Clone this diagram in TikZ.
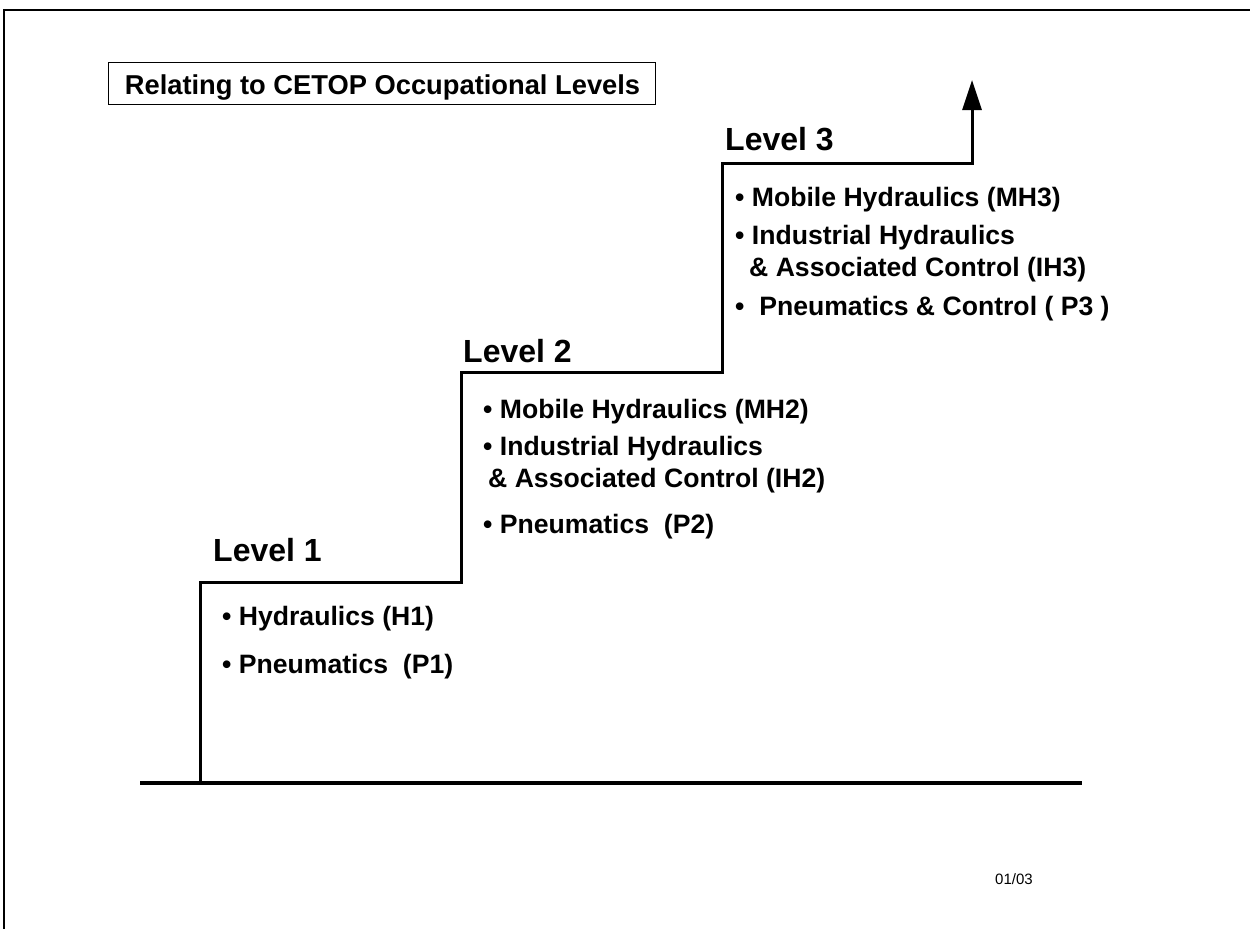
\documentclass[tikz,border=0pt]{standalone}
\usepackage{fontspec}
\setmainfont{Liberation Sans}
\usetikzlibrary{arrows.meta}
\begin{document}
\begin{tikzpicture}[x=1pt,y=-1pt,
  lvl/.style={anchor=base west,inner sep=0pt,font=\fontsize{32}{36}\selectfont\bfseries},
  item/.style={anchor=base west,inner sep=0pt,font=\fontsize{26.6}{30}\selectfont\bfseries},
  stair/.style={line width=3pt,line join=miter},
  ground/.style={line width=4.5pt},
  frame/.style={line width=2pt},
  titlebox/.style={draw,line width=1pt,minimum width=547pt,minimum height=42pt,inner sep=0pt},
  titletext/.style={anchor=base,inner sep=0pt,font=\fontsize{27.3}{30}\selectfont\bfseries}]
\useasboundingbox (0,0) rectangle (1250,929);
% page frame
\coordinate (ftl) at (4,10);
\coordinate (ftr) at (1250,10);
\coordinate (fbl) at (4,929);
\draw[frame] (ftr) -- (ftl) -- (fbl);
% title
\node[titlebox] (title) at (381.5,83) {};
\node[titletext] (titlet) at (382.5,94.3) {Relating to CETOP Occupational Levels};
% ground line
\coordinate (g1) at (140,783);
\coordinate (g2) at (1082,783);
\draw[ground] (g1) -- (g2);
% stairs
\coordinate (s0) at (200,783);
\coordinate (s1) at (200,582);
\coordinate (s2) at (461,582);
\coordinate (s3) at (461,372);
\coordinate (s4) at (722,372);
\coordinate (s5) at (722,163);
\coordinate (s6) at (972,163);
\coordinate (s7) at (972,80);
\draw[stair,-{Triangle[length=30pt,width=19pt]}] (s0) -- (s1) -- (s2) -- (s3) -- (s4) -- (s5) -- (s6) -- (s7);
% level 1
\node[lvl] (l1) at (213,561.5) {Level 1};
\node[item] (l1a) at (222,625) {• Hydraulics (H1)};
\node[item] (l1b) at (222,673) {• Pneumatics\ \ (P1)};
% level 2
\node[lvl] (l2) at (463,362) {Level 2};
\node[item] (l2a) at (483,418) {• Mobile Hydraulics (MH2)};
\node[item] (l2b) at (483,455) {• Industrial Hydraulics};
\node[item] (l2c) at (488,487) {\&~Associated Control (IH2)};
\node[item] (l2d) at (483,533) {• Pneumatics\ \ (P2)};
% level 3
\node[lvl] (l3) at (725,150) {Level 3};
\node[item] (l3a) at (735,206) {• Mobile Hydraulics (MH3)};
\node[item] (l3b) at (735,244) {• Industrial Hydraulics};
\node[item] (l3c) at (749,276) {\&~Associated Control (IH3)};
\node[item] (l3d) at (735,315) {•\ \ Pneumatics \& Control ( P3 )};
% date
\node[anchor=base west,inner sep=0pt,font=\fontsize{15}{17}\selectfont] (date) at (995,884) {01/03};
\end{tikzpicture}
\end{document}
